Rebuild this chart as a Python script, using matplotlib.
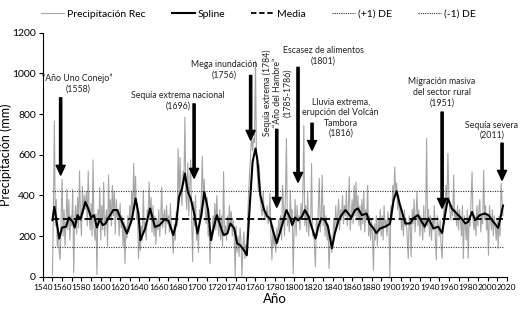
import numpy as np
import matplotlib
matplotlib.use("Agg")
import matplotlib.pyplot as plt
from matplotlib.lines import Line2D
from matplotlib.ticker import MultipleLocator

plt.rcParams['font.family'] = ['Lato', 'DejaVu Sans']

# annual reconstructed precipitation (mm), 1550-2016
years = np.arange(1550, 2017)
precip = [
    10, 330, 765, 250, 380, 150, 240, 120, 85, 300,      # 1550s
    480, 200, 330, 150, 260, 430, 230, 380, 180, 300,    # 1560s
    250, 430, 20, 280, 350, 210, 390, 240, 520, 300,     # 1570s
    200, 445, 310, 400, 330, 420, 250, 520, 310, 230,    # 1580s
    360, 200, 575, 240, 180, 310, 10, 330, 270, 440,     # 1590s
    180, 350, 230, 465, 200, 290, 330, 150, 500, 280,    # 1600s
    380, 250, 450, 300, 420, 210, 380, 290, 330, 200,    # 1610s
    360, 240, 300, 150, 270, 65, 250, 190, 300, 220,     # 1620s
    350, 260, 420, 300, 558, 350, 495, 280, 330, 90,     # 1630s
    200, 130, 250, 180, 425, 220, 270, 180, 330, 300,    # 1640s
    465, 280, 390, 220, 350, 200, 300, 160, 280, 230,    # 1650s
    330, 200, 280, 440, 240, 300, 330, 210, 350, 260,    # 1660s
    300, 220, 360, 250, 200, 115, 260, 180, 320, 250,    # 1670s
    630, 380, 587, 420, 350, 520, 460, 785, 400, 330,    # 1680s
    560, 300, 450, 575, 280, 74, 370, 250, 400, 180,     # 1690s
    250, 120, 330, 280, 400, 592, 350, 480, 330, 260,    # 1700s
    390, 200, 250, 65, 230, 180, 300, 250, 360, 230,     # 1710s
    400, 280, 200, 330, 180, 300, 150, 517, 200, 250,    # 1720s
    180, 300, 220, 350, 260, 320, 200, 280, 220, 3,      # 1730s
    250, 120, 200, 100, 240, 180, 3, 150, 220, 90,       # 1740s
    160, 100, 300, 420, 520, 600, 700, 620, 680, 660,    # 1750s
    1060, 600, 500, 420, 550, 380, 330, 300, 420, 310,   # 1760s
    280, 300, 350, 260, 300, 410, 200, 82, 250, 150,     # 1770s
    200, 120, 240, 170, 280, 220, 300, 180, 450, 350,    # 1780s
    200, 400, 680, 250, 300, 220, 425, 280, 330, 16,     # 1790s
    250, 380, 200, 350, 270, 300, 230, 360, 280, 400,    # 1800s
    745, 250, 350, 220, 420, 200, 300, 250, 557, 200,    # 1810s
    230, 150, 49, 280, 200, 350, 484, 220, 300, 500,     # 1820s
    250, 350, 200, 300, 180, 260, 41, 150, 200, 120,     # 1830s
    180, 280, 220, 350, 250, 300, 380, 230, 330, 280,    # 1840s
    400, 260, 350, 300, 420, 250, 330, 491, 230, 300,    # 1850s
    380, 260, 450, 300, 466, 280, 400, 250, 350, 230,    # 1860s
    380, 260, 420, 220, 330, 280, 450, 200, 300, 180,    # 1870s
    280, 200, 33, 260, 180, 300, 150, 280, 230, 330,     # 1880s
    200, 300, 180, 350, 250, 280, 200, 320, 260, 0,      # 1890s
    350, 280, 450, 380, 540, 420, 460, 330, 400, 280,    # 1900s
    350, 230, 300, 200, 330, 250, 280, 180, 90, 300,     # 1910s
    250, 98, 330, 260, 380, 220, 300, 420, 250, 330,     # 1920s
    200, 300, 260, 180, 350, 220, 300, 680, 250, 330,    # 1930s
    200, 300, 180, 280, 230, 350, 200, 82, 300, 250,     # 1940s
    200, 280, 150, 90, 250, 350, 300, 450, 380, 606,     # 1950s
    400, 330, 280, 350, 300, 500, 280, 330, 250, 350,    # 1960s
    230, 330, 280, 200, 350, 90, 300, 250, 180, 330,     # 1970s
    90, 300, 250, 380, 516, 280, 230, 300, 200, 350,     # 1980s
    250, 330, 380, 220, 300, 260, 524, 280, 350, 230,    # 1990s
    300, 106, 350, 280, 230, 330, 200, 300, 250, 180,    # 2000s
    280, 140, 300, 200, 459, 380, 300,                   # 2010s
]

# smoothing spline
spline_years = [
    1550, 1552, 1555, 1557, 1560, 1564, 1567, 1571, 1573, 1576, 1579, 1584,
    1587, 1590, 1593, 1596, 1599, 1602, 1605, 1609, 1613, 1617, 1621, 1627,
    1632, 1636, 1639, 1641, 1646, 1651, 1656, 1661, 1666, 1670, 1675, 1678,
    1681, 1684, 1687, 1690, 1693, 1697, 1700, 1704, 1707, 1711, 1714, 1717,
    1720, 1724, 1727, 1731, 1734, 1738, 1741, 1744, 1748, 1751, 1754, 1757,
    1760, 1762, 1765, 1769, 1772, 1775, 1778, 1782, 1785, 1789, 1792, 1796,
    1798, 1801, 1804, 1808, 1811, 1815, 1818, 1822, 1825, 1828, 1832, 1835,
    1839, 1842, 1846, 1849, 1853, 1856, 1859, 1863, 1866, 1870, 1875, 1878,
    1882, 1885, 1889, 1894, 1899, 1903, 1906, 1909, 1911, 1915, 1920, 1923,
    1928, 1932, 1935, 1939, 1944, 1949, 1953, 1956, 1959, 1963, 1968, 1973,
    1977, 1980, 1984, 1987, 1992, 1997, 2001, 2006, 2011, 2014, 2016,
]
spline_vals = [
    278, 344, 250, 188, 242, 246, 291, 270, 242, 303, 282, 368,
    336, 291, 303, 242, 282, 254, 262, 298, 328, 328, 282, 213,
    278, 385, 311, 180, 238, 336, 245, 254, 282, 275, 205, 262,
    393, 434, 508, 418, 385, 303, 213, 303, 418, 328, 180, 246,
    303, 246, 205, 213, 262, 238, 164, 156, 131, 106, 344, 565,
    631, 573, 401, 328, 298, 287, 229, 165, 213, 278, 328, 287,
    254, 291, 278, 295, 328, 295, 246, 188, 246, 287, 278, 246,
    140, 213, 278, 303, 328, 311, 291, 328, 336, 303, 311, 262,
    238, 215, 238, 246, 260, 380, 421, 360, 328, 262, 262, 287,
    303, 270, 246, 287, 238, 246, 215, 303, 385, 336, 311, 287,
    262, 270, 319, 278, 303, 311, 303, 270, 240, 303, 350,
]

media = 282
de_up = 420
de_down = 144

# annotations: text, text pos, arrow top, arrow bottom
events = [
    ("\u201cAño Uno Conejo\u201d\n(1558)", (1576, 1000), (1558.5, 880), (1558.5, 500)),
    ("Sequía extrema nacional\n(1696)", (1680, 915), (1696.5, 850), (1696.5, 485)),
    ("Mega inundación\n(1756)", (1728, 1065), (1755, 990), (1755, 672)),
    ("Escasez de alimentos\n(1801)", (1830, 1135), (1804, 1030), (1804, 465)),
    ("Lluvia extrema,\nerupción del Volcán\nTambora\n(1816)", (1848, 880), (1818.5, 755), (1818.5, 622)),
    ("Migración masiva\ndel sector rural\n(1951)", (1953, 980), (1953, 810), (1953, 337)),
    ("Sequía severa\n(2011)", (2004.5, 768), (2015, 657), (2015, 475)),
]

fig = plt.figure(figsize=(5.28, 3.12), dpi=100)
ax = fig.add_axes([0.081, 0.113, 0.879, 0.782])

ax.plot(years, precip, color='#a6a6a6', lw=0.8)
ax.plot(spline_years, spline_vals, color='black', lw=1.5)
ax.plot([years[0], years[-1]], [media, media], color='black', lw=1.3, ls=(0, (4, 2)))
ax.plot([years[0], years[-1]], [de_up, de_up], color='#333333', lw=0.8, ls=(0, (1, 1.2)))
ax.plot([years[0], years[-1]], [de_down, de_down], color='#333333', lw=0.8, ls=(0, (1, 1.2)))

for txt, tpos, a0, a1 in events:
    ax.text(tpos[0], tpos[1], txt, ha='center', va='top', fontsize=6.3,
            linespacing=1.2, color='#222222')
    ax.annotate('', xy=a1, xytext=a0,
                arrowprops=dict(facecolor='black', edgecolor='black', width=1.6,
                                headwidth=6.5, headlength=7, shrink=0))

# rotated label for 1784-1786
ax.text(1782.5, 905, "Sequía extrema (1784)\n\u201cAño del Hambre\u201d\n(1785-1786)",
        rotation=90, ha='center', va='center', fontsize=6.3, linespacing=1.2,
        color='#222222')
ax.annotate('', xy=(1782, 342), xytext=(1782, 725),
            arrowprops=dict(facecolor='black', edgecolor='black', width=1.6,
                            headwidth=6.5, headlength=7, shrink=0))

ax.set_xlim(1540, 2020)
ax.set_ylim(0, 1200)
ax.xaxis.set_major_locator(MultipleLocator(20))
ax.xaxis.set_minor_locator(MultipleLocator(10))
ax.yaxis.set_major_locator(MultipleLocator(200))
ax.tick_params(axis='x', which='both', length=3, width=0.8, labelsize=6, pad=2)
ax.tick_params(axis='y', length=3, width=0.8, labelsize=7.5, pad=2)
for s in ['top', 'right']:
    ax.spines[s].set_visible(False)
ax.set_ylabel('Precipitación (mm)', fontsize=9)
ax.yaxis.set_label_coords(-0.066, 0.5)
ax.set_xlabel('Año', fontsize=9.5, labelpad=2)

handles = [
    Line2D([], [], color='#a6a6a6', lw=0.8),
    Line2D([], [], color='black', lw=1.5),
    Line2D([], [], color='black', lw=1.3, ls=(0, (3, 1.5))),
    Line2D([], [], color='#333333', lw=0.8, ls=(0, (1, 1))),
    Line2D([], [], color='#333333', lw=0.8, ls=(0, (1, 1))),
]
labels = ['Precipitación Rec', 'Spline', 'Media', '(+1) DE', '(-1) DE']
fig.legend(handles, labels, loc='upper center', bbox_to_anchor=(0.49, 1.0),
           ncol=5, frameon=False, fontsize=7.5, handlelength=2.2,
           handletextpad=0.3, columnspacing=2.5)

fig.savefig('out.png', dpi=100)
